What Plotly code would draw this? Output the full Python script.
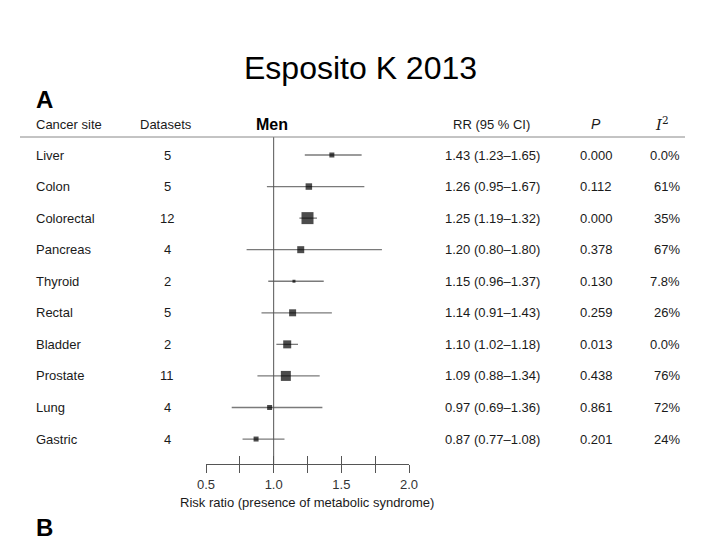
import plotly.graph_objects as go

# ---------------- data ----------------
sites = ["Liver", "Colon", "Colorectal", "Pancreas", "Thyroid",
         "Rectal", "Bladder", "Prostate", "Lung", "Gastric"]
datasets = [5, 5, 12, 4, 2, 5, 2, 11, 4, 4]
rr = [1.43, 1.26, 1.25, 1.20, 1.15, 1.14, 1.10, 1.09, 0.97, 0.87]
ci_low = [1.23, 0.95, 1.19, 0.80, 0.96, 0.91, 1.02, 0.88, 0.69, 0.77]
ci_high = [1.65, 1.67, 1.32, 1.80, 1.37, 1.43, 1.18, 1.34, 1.36, 1.08]
p_values = ["0.000", "0.112", "0.000", "0.378", "0.130",
            "0.259", "0.013", "0.438", "0.861", "0.201"]
i_squared = ["0.0%", "61%", "35%", "67%", "7.8%",
             "26%", "0.0%", "76%", "72%", "24%"]
weights = [5, 6.5, 12, 7, 3, 7, 8, 10, 5, 5]  # relative study weight (box size)
major_ticks = [0.5, 1.0, 1.5, 2.0]
major_labels = ["0.5", "1.0", "1.5", "2.0"]
minor_ticks = [0.75, 1.25, 1.75]
REF = 1.0

# ---------------- layout helpers ----------------
W, H = 720, 540
ROW0_PX, ROW_STEP = 155, 31.56
AXIS_PX = 464
HEADER_LINE_PX = 137
FONT = "Liberation Sans, Arial, sans-serif"
TXT = "#1a1a1a"


def px_x(px):
    return px / W


def px_y(px):
    return 1 - px / H


rows = list(range(len(sites)))
err_plus = [h - r for h, r in zip(ci_high, rr)]
err_minus = [r - l for r, l in zip(rr, ci_low)]

fig = go.Figure()
# confidence intervals (drawn first, beneath the boxes)
fig.add_trace(go.Scatter(
    x=rr, y=rows, mode="markers",
    marker=dict(size=1, color="rgba(0,0,0,0)"),
    error_x=dict(type="data", symmetric=False, array=err_plus,
                 arrayminus=err_minus, color="#7a7a7a", thickness=1.3, width=0),
    showlegend=False, hoverinfo="skip", cliponaxis=False,
))
# point estimates
fig.add_trace(go.Scatter(
    x=rr, y=rows, mode="markers",
    marker=dict(symbol="square", size=weights, color="black",
                line=dict(width=0)),
    showlegend=False, hoverinfo="skip", cliponaxis=False,
))
# empty trace to register the overlay axis (ticks above the axis line)
fig.add_trace(go.Scatter(x=[], y=[], xaxis="x2", yaxis="y", showlegend=False))

y_top = -ROW0_PX / ROW_STEP
y_bot = (H - ROW0_PX) / ROW_STEP

axis_common = dict(
    domain=[px_x(206), px_x(409)], range=[major_ticks[0], major_ticks[-1]],
    anchor="free", position=px_y(AXIS_PX), automargin=False,
    showgrid=False, zeroline=False, tickmode="array", tickvals=major_ticks,
    ticklen=8, tickwidth=1, tickcolor="#555",
)
fig.update_layout(
    template="none",
    width=W, height=H,
    margin=dict(l=0, r=0, t=0, b=0, pad=0, autoexpand=False),
    paper_bgcolor="white", plot_bgcolor="white",
    xaxis=dict(**axis_common, ticks="outside", ticktext=major_labels,
               showline=True, linecolor="#555", linewidth=1,
               minor=dict(tickmode="array", tickvals=minor_ticks, ticks="outside",
                          ticklen=8, tickwidth=1, tickcolor="#555", showgrid=False),
               tickfont=dict(family=FONT, size=13, color="#333")),
    xaxis2=dict(**axis_common, ticks="inside", overlaying="x",
                minor=dict(tickmode="array", tickvals=minor_ticks, ticks="inside",
                           ticklen=8, tickwidth=1, tickcolor="#555", showgrid=False),
                showticklabels=False, showline=False),
    yaxis=dict(domain=[0, 1], range=[y_bot, y_top], visible=False,
               automargin=False),
)

shapes = [
    dict(type="line", xref="x", yref="paper", x0=REF, x1=REF,
         y0=px_y(HEADER_LINE_PX), y1=px_y(AXIS_PX),
         line=dict(color="#555", width=1)),
    dict(type="line", xref="paper", yref="paper", x0=px_x(20), x1=px_x(685),
         y0=px_y(HEADER_LINE_PX), y1=px_y(HEADER_LINE_PX),
         line=dict(color="#888", width=1)),
]
fig.update_layout(shapes=shapes)

ann = []


def add(text, x, y, size=13, anchor="center", bold=False, yref="paper",
        family=FONT, color=TXT):
    ann.append(dict(text=f"<b>{text}</b>" if bold else text,
                    x=x, y=y, xref="paper", yref=yref, xanchor=anchor,
                    yanchor="middle", showarrow=False, borderpad=0,
                    font=dict(family=family, size=size, color=color)))


add("Esposito K 2013", 0.5, px_y(68), size=32, color="black")
add("A", px_x(35), px_y(100), size=24, anchor="left", bold=True, color="black")
add("B", px_x(35), px_y(527), size=24, anchor="left", bold=True, color="black")

hy = px_y(124)
add("Cancer site", px_x(35), hy, anchor="left")
add("Datasets", px_x(166), hy)
add("Men", px_x(272), hy, size=16, bold=True, color="black")
add("RR (95 % CI)", px_x(491), hy)
add("<i>P</i>", px_x(596), hy, size=14)
add("<i>I</i><sup>2</sup>", px_x(662), hy, size=15, family="DejaVu Serif, serif")

for i in rows:
    add(sites[i], px_x(35), i, anchor="left", yref="y")
    add(str(datasets[i]), px_x(167), i, yref="y")
    add(f"{rr[i]:.2f} ({ci_low[i]:.2f}–{ci_high[i]:.2f})", px_x(492), i, yref="y")
    add(p_values[i], px_x(596), i, yref="y")
    add(i_squared[i], px_x(681), i, anchor="right", yref="y")

add("Risk ratio (presence of metabolic syndrome)", px_x(307), px_y(502))

fig.update_layout(annotations=ann)
fig.write_html(
    "out.html",
    config={"displayModeBar": False},
    post_script="document.body.style.margin='0';document.body.style.overflow='hidden';",
)
